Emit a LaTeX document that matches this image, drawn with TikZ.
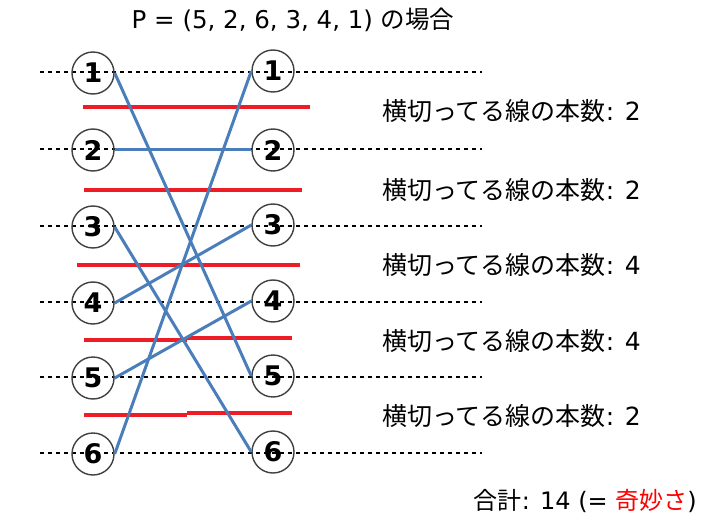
\documentclass[tikz,border=0pt]{standalone}
\usepackage{fontspec}
\setmainfont{DejaVu Sans}
\newfontfamily\jp{Noto Sans CJK JP}
\usepackage{tikz}

\definecolor{crossred}{HTML}{EE1C25}
\definecolor{pathblue}{HTML}{4A7EBB}
\definecolor{ringgray}{HTML}{404040}

\tikzset{
  ring/.style={circle, draw=ringgray, line width=1.4pt, minimum size=42pt, inner sep=0pt, font=\fontsize{27}{27}\selectfont\bfseries},
  rowline/.style={black, line width=1.3pt, dash pattern=on 4pt off 4pt},
  cutline/.style={crossred, line width=4pt},
  perm/.style={pathblue, line width=3pt},
  countlabel/.style={anchor=west, inner sep=0pt, font=\fontsize{25}{25}\selectfont}
}

\begin{document}
\begin{tikzpicture}[x=1pt,y=-1pt]

    % Fix the page to the size of the reference
    \useasboundingbox (0,0) rectangle (704,524);

    % Title
    \node[inner sep=0pt, font=\fontsize{24.5}{24.5}\selectfont] (title) at (293,20) {P = (5, 2, 6, 3, 4, 1) {\jp の場合}};

    % Dashed lines, one per row
    \coordinate (D1a) at (40,72);  \coordinate (D1b) at (482,72);
    \coordinate (D2a) at (40,149); \coordinate (D2b) at (482,149);
    \coordinate (D3a) at (40,226); \coordinate (D3b) at (482,226);
    \coordinate (D4a) at (40,302); \coordinate (D4b) at (482,302);
    \coordinate (D5a) at (40,377); \coordinate (D5b) at (482,377);
    \coordinate (D6a) at (40,453); \coordinate (D6b) at (482,453);
    \draw[rowline] (D1a) -- (D1b);
    \draw[rowline] (D2a) -- (D2b);
    \draw[rowline] (D3a) -- (D3b);
    \draw[rowline] (D4a) -- (D4b);
    \draw[rowline] (D5a) -- (D5b);
    \draw[rowline] (D6a) -- (D6b);

    % Left column (positions)
    \node[ring] (L1) at (93,73)  {1};
    \node[ring] (L2) at (93,150) {2};
    \node[ring] (L3) at (93,227) {3};
    \node[ring] (L4) at (93,303) {4};
    \node[ring] (L5) at (93,378) {5};
    \node[ring] (L6) at (93,454) {6};

    % Right column (values)
    \node[ring] (R1) at (273,71)  {1};
    \node[ring] (R2) at (273,150) {2};
    \node[ring] (R3) at (273,225) {3};
    \node[ring] (R4) at (273,301) {4};
    \node[ring] (R5) at (273,376) {5};
    \node[ring] (R6) at (273,452) {6};

    % Red cut lines between the rows
    \coordinate (C1a) at (83,107);  \coordinate (C1b) at (310,107);
    \coordinate (C2a) at (84,190);  \coordinate (C2b) at (302,190);
    \coordinate (C3a) at (77,265);  \coordinate (C3b) at (300,265);
    \coordinate (C4a) at (84,340);  \coordinate (C4m) at (187,340);
    \coordinate (C4n) at (187,338); \coordinate (C4b) at (292,338);
    \coordinate (C5a) at (84,415);  \coordinate (C5m) at (187,415);
    \coordinate (C5n) at (187,413); \coordinate (C5b) at (292,413);
    \draw[cutline] (C1a) -- (C1b);
    \draw[cutline] (C2a) -- (C2b);
    \draw[cutline] (C3a) -- (C3b);
    \draw[cutline] (C4a) -- (C4m);
    \draw[cutline] (C4n) -- (C4b);
    \draw[cutline] (C5a) -- (C5m);
    \draw[cutline] (C5n) -- (C5b);

    % Permutation P = (5, 2, 6, 3, 4, 1)
    \draw[perm] (L1.east) -- (R5.west);
    \draw[perm] (L2.east) -- (R2.west);
    \draw[perm] (L3.east) -- (R6.west);
    \draw[perm] (L4.east) -- (R3.west);
    \draw[perm] (L5.east) -- (R4.west);
    \draw[perm] (L6.east) -- (R1.west);

    % Crossing counts
    \node[countlabel] (K1) at (382,111) {{\jp 横切ってる線の本数}: 2};
    \node[countlabel] (K2) at (382,190) {{\jp 横切ってる線の本数}: 2};
    \node[countlabel] (K3) at (382,265) {{\jp 横切ってる線の本数}: 4};
    \node[countlabel] (K4) at (382,341) {{\jp 横切ってる線の本数}: 4};
    \node[countlabel] (K5) at (382,416) {{\jp 横切ってる線の本数}: 2};

    % Total
    \node[anchor=east, inner sep=0pt, font=\fontsize{24}{24}\selectfont] (total) at (697,501) {{\jp 合計}: 14 (= \textcolor{red}{\jp 奇妙さ})};

\end{tikzpicture}
\end{document}
